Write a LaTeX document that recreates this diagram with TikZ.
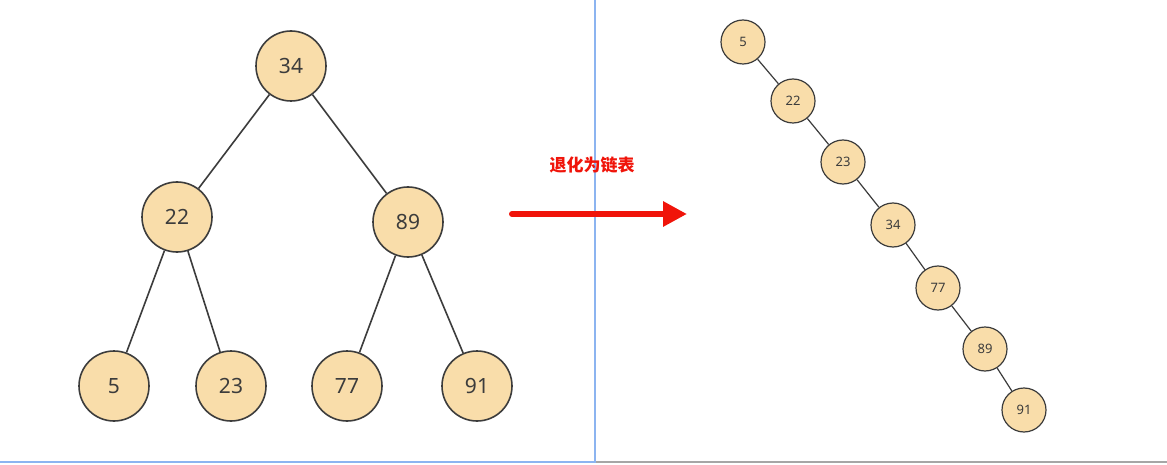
\documentclass[tikz,border=0pt]{standalone}
\usepackage{fontspec}
\setmainfont{Noto Sans}
\newfontfamily\cjk{Noto Sans CJK SC}
\usetikzlibrary{arrows.meta}
\definecolor{nodefill}{RGB}{249,221,170}
\definecolor{edgec}{RGB}{60,60,60}
\definecolor{panelblue}{RGB}{140,180,240}
\definecolor{arrred}{RGB}{240,20,10}
\tikzset{
  big/.style={circle,draw=edgec,line width=1.6pt,fill=nodefill,minimum size=70pt,inner sep=0pt,font=\fontsize{21}{21}\selectfont,text=edgec},
  small/.style={circle,draw=edgec,line width=1.2pt,fill=nodefill,minimum size=44pt,inner sep=0pt,font=\fontsize{13}{13}\selectfont,text=edgec},
  edge/.style={draw=edgec,line width=1.6pt},
  sedge/.style={draw=edgec,line width=1.2pt}
}
\begin{document}
\begin{tikzpicture}[x=1pt,y=-1pt]
\useasboundingbox (0,0) rectangle (1167,465);
\fill[white] (0,0) rectangle (1167,465);
\draw[gray!70,line width=1.5pt] (595,462) -- (1167,462);
\draw[panelblue,line width=2.5pt] (0,462) -- (595,462);
\draw[panelblue,line width=2.5pt] (595,0) -- (595,463);
\node[big] (a34) at (291,66) {34};
\node[big] (a22) at (177,217) {22};
\node[big] (a89) at (408,222) {89};
\node[big] (a5) at (114,386) {5};
\node[big] (a23) at (231,386) {23};
\node[big] (a77) at (347,386) {77};
\node[big] (a91) at (477,386) {91};
\draw[edge] (a34) -- (a22);
\draw[edge] (a34) -- (a89);
\draw[edge] (a22) -- (a5);
\draw[edge] (a22) -- (a23);
\draw[edge] (a89) -- (a77);
\draw[edge] (a89) -- (a91);
\node[small] (b5) at (743,42) {5};
\node[small] (b22) at (793,101) {22};
\node[small] (b23) at (843,162) {23};
\node[small] (b34) at (893,225) {34};
\node[small] (b77) at (938,288) {77};
\node[small] (b89) at (985,349) {89};
\node[small] (b91) at (1024,410) {91};
\draw[sedge] (b5) -- (b22);
\draw[sedge] (b22) -- (b23);
\draw[sedge] (b23) -- (b34);
\draw[sedge] (b34) -- (b77);
\draw[sedge] (b77) -- (b89);
\draw[sedge] (b89) -- (b91);
\node[font=\cjk\bfseries\fontsize{17}{17}\selectfont,text=arrred] (lbl) at (592,165) {退化为链表};
\coordinate (as) at (512,214);
\coordinate (ae) at (687,214);
\draw[arrred,line width=6pt,line cap=round,-{Triangle[length=24pt,width=24pt]}] (as) -- (ae);
\end{tikzpicture}
\end{document}
